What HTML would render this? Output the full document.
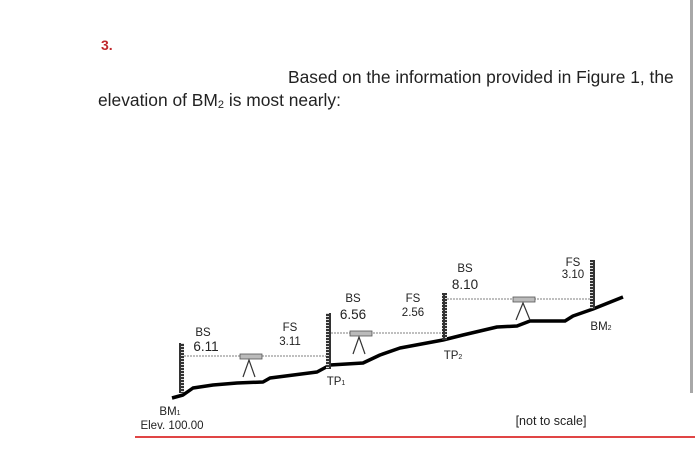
<!DOCTYPE html>
<html><head><meta charset="utf-8"><style>
html,body{margin:0;padding:0;background:#fff;}
svg{display:block;}
text{font-family:"Liberation Sans",Arial,sans-serif;fill:#222;}
</style></head><body>
<svg width="700" height="462" viewBox="0 0 700 462">
<defs>
<pattern id="rod" width="6" height="3" patternUnits="userSpaceOnUse"><rect width="6" height="3" fill="#333"/><rect x="1" y="1" width="4" height="1" fill="#ddd"/></pattern>
</defs>
<rect x="690" y="0" width="3" height="393" fill="#a8a8a8"/>
<text x="101" y="50" font-size="14" font-weight="bold" style="fill:#c0282d">3.</text>
<text x="288" y="83" font-size="17.4">Based on the information provided in Figure 1, the</text>
<text x="98" y="106" font-size="17.4">elevation of BM<tspan font-size="11" dy="2">2</tspan><tspan dy="-2"> is most nearly:</tspan></text>

<polyline fill="none" stroke="#000" stroke-width="3.5" stroke-linejoin="round"
points="172,398 183,395 193,388 213,385 237,383 263,382 270,378 317,372 330,365 363,363 380,355 400,348 443,340 463,335 497,327 517,326 530,321 565,321 573,316 593,309 623,297"/>

<g stroke="#999" stroke-width="1.2" stroke-dasharray="2,1">
<line x1="184" y1="356" x2="327" y2="356"/>
<line x1="331" y1="333" x2="445" y2="333"/>
<line x1="447" y1="299" x2="592" y2="299"/>
</g>

<rect x="179" y="343" width="5" height="50" fill="url(#rod)"/>
<rect x="326" y="313" width="5" height="56" fill="url(#rod)"/>
<rect x="442" y="293" width="5" height="47" fill="url(#rod)"/>
<rect x="590" y="260" width="5" height="49" fill="url(#rod)"/>

<g>
<rect x="240" y="354" width="22" height="5" fill="#bbb" stroke="#555" stroke-width="0.8"/>
<polyline points="243,377 249,360 255,377" fill="none" stroke="#333" stroke-width="1.2"/>
</g>
<g>
<rect x="350" y="331" width="22" height="5" fill="#bbb" stroke="#555" stroke-width="0.8"/>
<polyline points="353,354 359,337 365,354" fill="none" stroke="#333" stroke-width="1.2"/>
</g>
<g>
<rect x="513" y="297" width="22" height="5" fill="#bbb" stroke="#555" stroke-width="0.8"/>
<polyline points="516,320 523,303 530,320" fill="none" stroke="#333" stroke-width="1.2"/>
</g>

<g font-size="11.5" text-anchor="middle">
<text x="203" y="336">BS</text>
<text x="206" y="351" font-size="13.5">6.11</text>
<text x="290" y="331">FS</text>
<text x="290" y="345">3.11</text>
<text x="353" y="302">BS</text>
<text x="353" y="319" font-size="13.5">6.56</text>
<text x="413" y="302">FS</text>
<text x="413" y="316">2.56</text>
<text x="465" y="272">BS</text>
<text x="465" y="289" font-size="13.5">8.10</text>
<text x="573" y="266">FS</text>
<text x="573" y="278">3.10</text>
<text x="336" y="385">TP<tspan font-size="7">1</tspan></text>
<text x="453" y="359">TP<tspan font-size="7">2</tspan></text>
<text x="601" y="330">BM<tspan font-size="7">2</tspan></text>
<text x="170" y="415">BM<tspan font-size="7">1</tspan></text>
<text x="172" y="429">Elev. 100.00</text>
<text x="551" y="425" font-size="12.5">[not to scale]</text>
</g>
<line x1="135" y1="437" x2="695" y2="437" stroke="#e04545" stroke-width="2"/>
</svg>
</body></html>
